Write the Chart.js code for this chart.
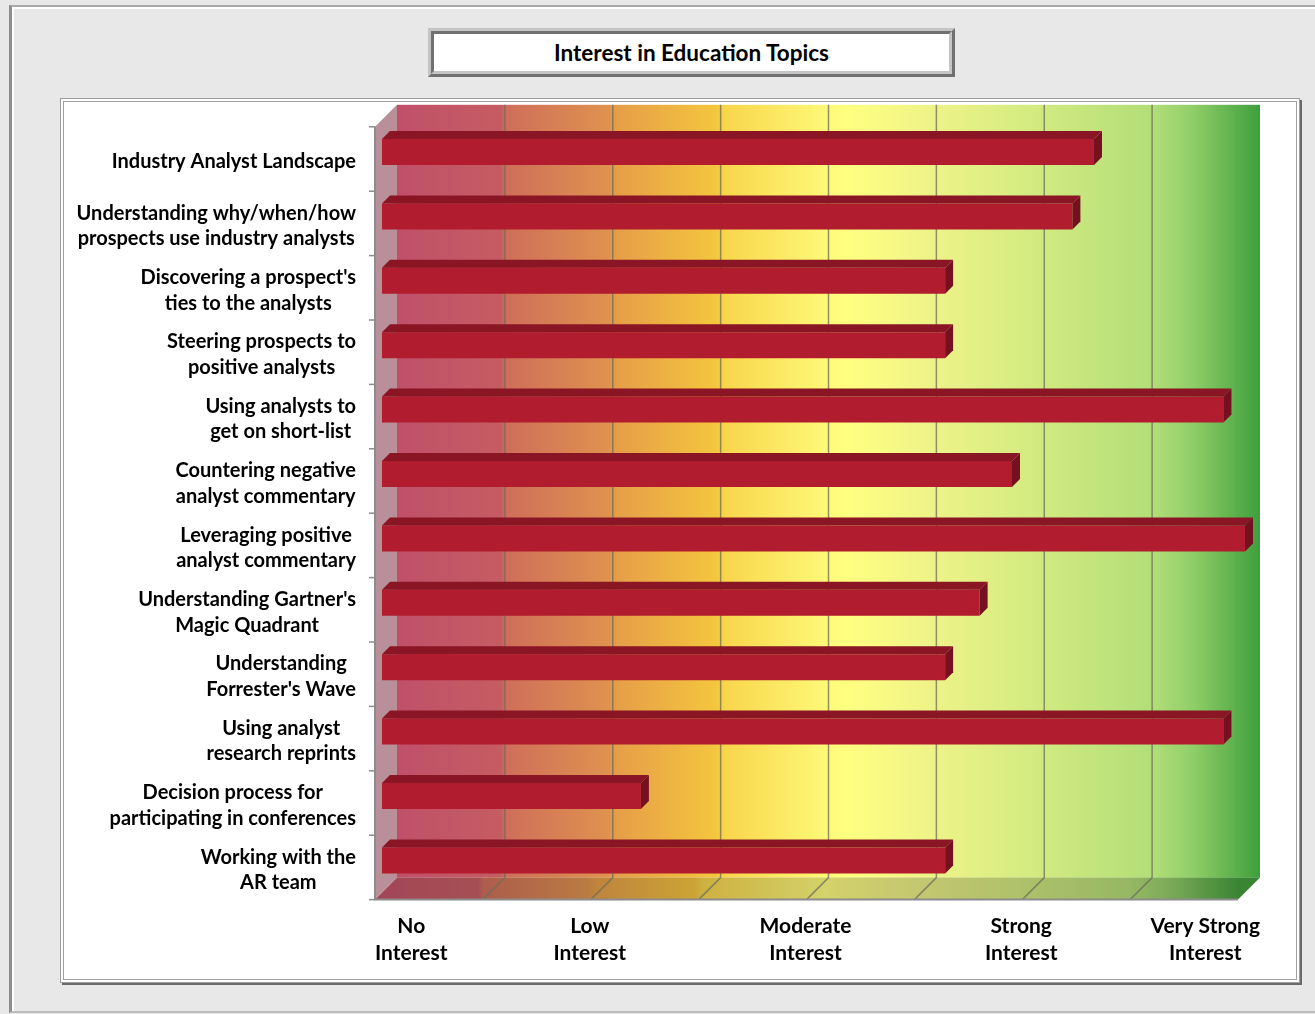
<!DOCTYPE html>
<html>
<head>
<meta charset="utf-8">
<script src="https://cdn.jsdelivr.net/npm/chart.js@4.4.1/dist/chart.umd.min.js"></script>
<style>
  html, body { margin: 0; padding: 0; background: #e8e8e8; width: 1315px; height: 1014px; overflow: hidden; }
  #frame { position: absolute; left: 9px; top: 5px; width: 1320px; height: 1004px;
           border-left: 3px solid #8e8e8e; border-top: 2px solid #a8a8a8; border-bottom: 2px solid #bdbdbd;
           box-shadow: inset 2px 2px 0 #ffffff; }
  #panel { position: absolute; left: 60px; top: 98px; width: 1232px; height: 877px; background: #fff;
           border: 4px double #a0a0a0; box-shadow: 2px 2px 0 #6a6a6a; }
  #title { position: absolute; left: 428px; top: 28px; width: 515px; height: 37px; background: #fff;
           border: 6px ridge #c4c4c4; font-family: Lato, "Open Sans", sans-serif; font-weight: bold;
           font-size: 22.5px; line-height: 37px; text-align: center; color: #000; }
  canvas { position: absolute; left: 0; top: 0; }
</style>
</head>
<body>
<div id="frame"></div>
<div id="panel"></div>
<div id="title"></div>
<canvas id="c" width="1315" height="1014"></canvas>
<script>
// ---- data ----
const chartTitle = "Interest in Education Topics";
const categories = [
  ["Industry Analyst Landscape"],
  ["Understanding why/when/how", "prospects use industry analysts"],
  ["Discovering a prospect's", "ties to the analysts"],
  ["Steering prospects to", "positive analysts"],
  ["Using analysts to", "get on short-list"],
  ["Countering negative", "analyst commentary"],
  ["Leveraging positive", "analyst commentary"],
  ["Understanding Gartner's", "Magic Quadrant"],
  ["Understanding", "Forrester's Wave"],
  ["Using analyst", "research reprints"],
  ["Decision process for", "participating in conferences"],
  ["Working with the", "AR team"]
];
const interestScores = [3.30, 3.20, 2.61, 2.61, 3.90, 2.92, 4.00, 2.77, 2.61, 3.90, 1.20, 2.61];
const tickValues = [0, 1, 2, 3, 4];
const tickLabels = [["No", "Interest"], ["Low", "Interest"], ["Moderate", "Interest"], ["Strong", "Interest"], ["Very Strong", "Interest"]];
const axisMin = 0, axisMax = 4, gridStep = 0.5;

document.getElementById('title').textContent = chartTitle;

// ---- style ----
const FONT = 'bold 20px Lato, "Open Sans", sans-serif';
const XFONT = 'bold 21px Lato, "Open Sans", sans-serif';
const FRONT = 7, BACK = 15, BARD = 8;
const gradStops = [
  [0.00, '#c0506a'], [0.12, '#c65c62'], [0.126, '#cf6e5a'], [0.245, '#df924f'],
  [0.255, '#e69e48'], [0.37, '#f4c63e'], [0.38, '#f8d64c'], [0.52, '#ffff80'],
  [0.62, '#eef388'], [0.75, '#d0ea80'], [0.875, '#b2de78'], [0.92, '#92cf69'], [1.00, '#3e9f3c']
];

const wallsPlugin = {
  id: 'walls',
  beforeDatasetsDraw(chart) {
    const ctx = chart.ctx, a = chart.chartArea, xs = chart.scales.x;
    const L = a.left, R = a.right, T = a.top, B = a.bottom;
    ctx.save();
    const g = ctx.createLinearGradient(L + BACK, 0, R + BACK, 0);
    gradStops.forEach(s => g.addColorStop(s[0], s[1]));
    ctx.fillStyle = g;
    ctx.fillRect(L + BACK, T - BACK, R - L, B - T);
    // floor
    ctx.beginPath();
    ctx.moveTo(L - FRONT, B + FRONT); ctx.lineTo(L + BACK, B - BACK);
    ctx.lineTo(R + BACK, B - BACK); ctx.lineTo(R - FRONT, B + FRONT); ctx.closePath();
    const gf = ctx.createLinearGradient(L - FRONT, 0, R - FRONT, 0);
    gradStops.forEach(s => gf.addColorStop(s[0], s[1]));
    ctx.fillStyle = gf; ctx.fill();
    ctx.fillStyle = 'rgba(40,30,20,0.2)'; ctx.fill();
    // left wall
    ctx.beginPath();
    ctx.moveTo(L - FRONT, T + FRONT); ctx.lineTo(L + BACK, T - BACK);
    ctx.lineTo(L + BACK, B - BACK); ctx.lineTo(L - FRONT, B + FRONT); ctx.closePath();
    ctx.fillStyle = '#b98f99'; ctx.fill();
    // gridlines
    ctx.strokeStyle = 'rgba(110,110,90,0.75)'; ctx.lineWidth = 1.5;
    for (let v = axisMin + gridStep; v < axisMax - 1e-9; v += gridStep) {
      const x = xs.getPixelForValue(v);
      ctx.beginPath();
      ctx.moveTo(x + BACK, T - BACK); ctx.lineTo(x + BACK, B - BACK); ctx.lineTo(x - FRONT, B + FRONT);
      ctx.stroke();
    }
    // axis lines and ticks
    ctx.strokeStyle = '#8c8c8c'; ctx.lineWidth = 2;
    ctx.beginPath();
    ctx.moveTo(L - FRONT, T + FRONT); ctx.lineTo(L - FRONT, B + FRONT); ctx.lineTo(R - FRONT, B + FRONT);
    ctx.stroke();
    ctx.lineWidth = 1.5;
    const n = categories.length;
    const step = (B - T) / n;
    for (let i = 0; i <= n; i++) {
      const y = T + i * step + FRONT;
      ctx.beginPath(); ctx.moveTo(L - FRONT - 6, y); ctx.lineTo(L - FRONT, y); ctx.stroke();
    }
    ctx.restore();
  },
  afterDatasetsDraw(chart) {
    const ctx = chart.ctx, a = chart.chartArea, xs = chart.scales.x, ys = chart.scales.y;
    ctx.save();
    chart.getDatasetMeta(0).data.forEach(bar => {
      const p = bar.getProps(['x', 'y', 'base', 'height'], true);
      const top = p.y - p.height / 2, bot = p.y + p.height / 2;
      ctx.fillStyle = '#8a1525';
      ctx.beginPath();
      ctx.moveTo(p.base, top); ctx.lineTo(p.base + BARD, top - BARD);
      ctx.lineTo(p.x + BARD, top - BARD); ctx.lineTo(p.x, top); ctx.closePath(); ctx.fill();
      ctx.fillStyle = '#74101f';
      ctx.beginPath();
      ctx.moveTo(p.x, top); ctx.lineTo(p.x + BARD, top - BARD);
      ctx.lineTo(p.x + BARD, bot - BARD); ctx.lineTo(p.x, bot); ctx.closePath(); ctx.fill();
    });
    // category labels
    ctx.font = FONT; ctx.fillStyle = '#000'; ctx.textBaseline = 'middle'; ctx.textAlign = 'center';
    const rightEdge = a.left - 26;
    const lh = 25.5;
    categories.forEach((lines, i) => {
      const w = Math.max(...lines.map(s => ctx.measureText(s).width));
      const cx = rightEdge - w / 2;
      const cy = ys.getPixelForValue(i) + 9.5;
      lines.forEach((s, k) => ctx.fillText(s, cx, cy + (k - (lines.length - 1) / 2) * lh));
    });
    // value axis labels
    ctx.font = XFONT;
    const lh2 = 27;
    tickValues.forEach((v, i) => {
      const lines = tickLabels[i];
      const w = Math.max(...lines.map(s => ctx.measureText(s).width));
      let cx = xs.getPixelForValue(v) - FRONT - 1;
      if (i === 0) cx = xs.getPixelForValue(v) - FRONT + w / 2;
      if (i === tickValues.length - 1) cx = xs.getPixelForValue(v) + BACK - w / 2;
      lines.forEach((s, k) => ctx.fillText(s, cx, a.bottom + 34 + k * lh2));
    });
    ctx.restore();
  }
};

new Chart(document.getElementById('c'), {
  type: 'bar',
  data: {
    labels: categories.map(c => c.join(' ')),
    datasets: [{
      data: interestScores,
      backgroundColor: '#b11c2f',
      borderWidth: 0,
      barPercentage: 0.404,
      categoryPercentage: 1
    }]
  },
  options: {
    indexAxis: 'y',
    responsive: false,
    animation: false,
    layout: { padding: { left: 382, right: 70, top: 119.8, bottom: 121.4 } },
    plugins: { legend: { display: false }, tooltip: { enabled: false }, title: { display: false } },
    scales: {
      x: { display: false, min: axisMin, max: axisMax },
      y: { display: false }
    }
  },
  plugins: [wallsPlugin]
});
</script>
</body>
</html>
